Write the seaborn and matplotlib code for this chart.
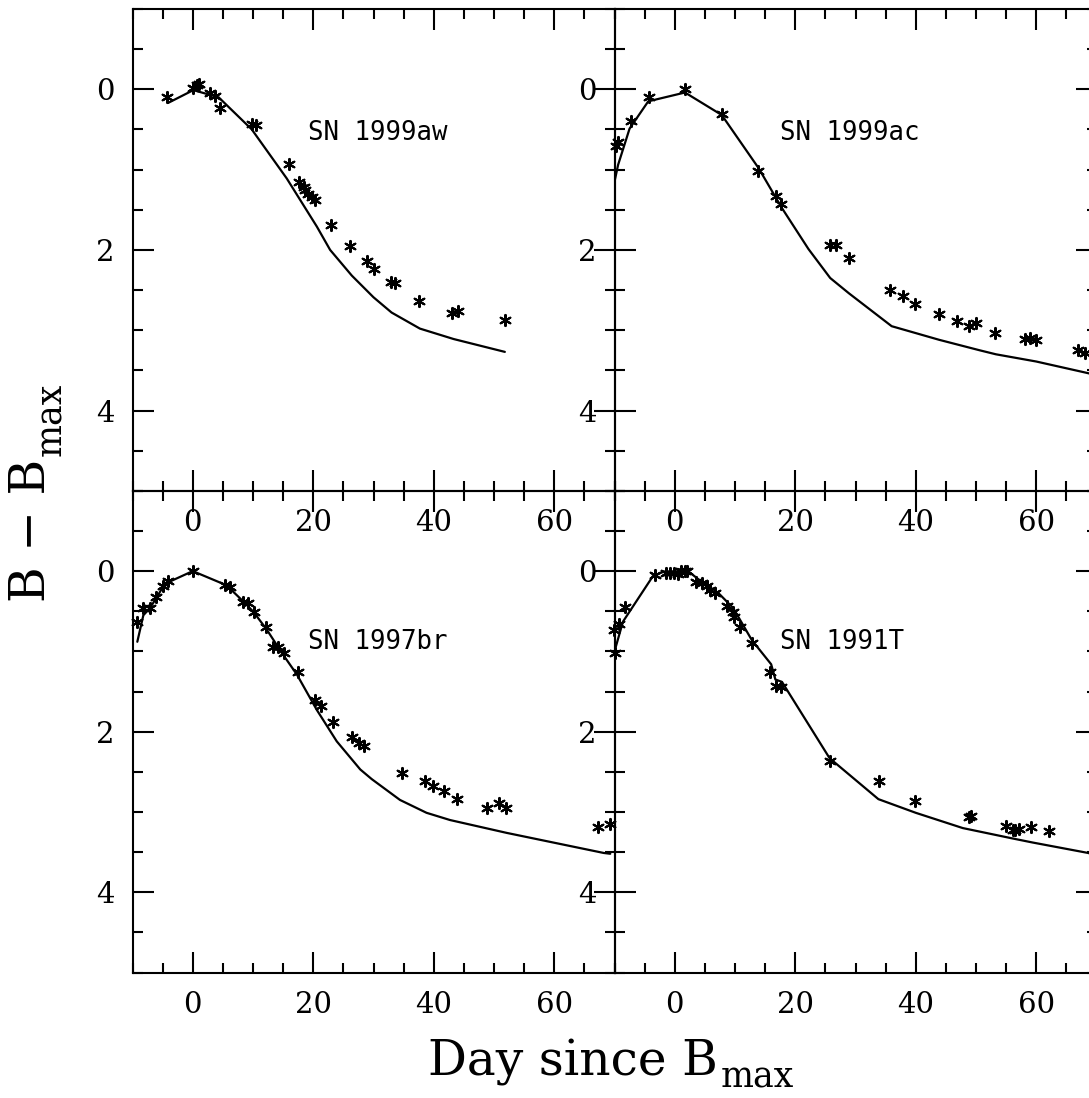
import numpy as np
import pandas as pd
import matplotlib
matplotlib.use("Agg")
import matplotlib.pyplot as plt
from matplotlib.ticker import MultipleLocator
import seaborn as sns

# ---------------- data ----------------
names = ["SN 1999aw", "SN 1999ac", "SN 1997br", "SN 1991T"]

aw_obs_day = [-4.3, 0.0, 0.66, 1.1, 2.9, 3.7, 4.5, 9.8, 10.5, 16.0, 17.7, 18.4, 18.6, 19.2,
              19.8, 20.3, 23.0, 26.1, 29.0, 30.1, 32.9, 33.5, 37.6, 43.0, 44.0, 51.8]
aw_obs_mag = [0.09, -0.02, -0.05, -0.07, 0.05, 0.08, 0.23, 0.43, 0.44, 0.93, 1.16, 1.22, 1.26, 1.31,
              1.34, 1.38, 1.69, 1.95, 2.14, 2.24, 2.40, 2.41, 2.64, 2.78, 2.76, 2.87]
aw_mod_day = [-4.1, 0.1, 4.3, 9.8, 15.6, 20.6, 22.8, 26.4, 30.0, 33.0, 37.7, 43.3, 51.8]
aw_mod_mag = [0.17, 0.01, 0.10, 0.50, 1.11, 1.71, 2.00, 2.32, 2.59, 2.78, 2.98, 3.11, 3.27]

ac_obs_day = [-9.8, -9.4, -7.2, -4.2, 1.7, 7.8, 13.9, 16.8, 17.7, 25.8, 26.8, 28.9, 35.8, 37.9,
              39.9, 43.9, 46.9, 48.9, 50.0, 53.1, 58.1, 59.0, 60.0, 66.9, 68.1]
ac_obs_mag = [0.71, 0.66, 0.39, 0.10, 0.0, 0.31, 1.02, 1.33, 1.43, 1.94, 1.94, 2.10, 2.50, 2.58,
              2.67, 2.80, 2.89, 2.95, 2.91, 3.04, 3.11, 3.10, 3.12, 3.25, 3.28]
ac_mod_day = [-10.0, -9.4, -7.5, -4.4, 1.7, 7.8, 13.9, 17.8, 22.2, 25.8, 28.9, 36.0, 43.9, 50.6,
              53.3, 60.0, 68.3, 70.0]
ac_mod_mag = [1.15, 0.94, 0.49, 0.15, 0.04, 0.32, 0.98, 1.48, 1.99, 2.35, 2.54, 2.95, 3.12, 3.25,
              3.30, 3.39, 3.53, 3.56]

br_obs_day = [-9.2, -8.2, -7.1, -6.1, -5.0, -4.1, 0.0, 5.3, 6.1, 8.4, 9.2, 10.2, 12.2, 13.4, 14.2,
              15.2, 17.4, 20.3, 21.3, 23.3, 26.4, 27.6, 28.5, 34.7, 38.6, 39.8, 41.7, 43.8, 48.9,
              50.8, 52.0, 67.2, 69.3]
br_obs_mag = [0.63, 0.46, 0.46, 0.32, 0.19, 0.12, 0.0, 0.17, 0.20, 0.39, 0.40, 0.51, 0.70, 0.95, 0.95,
              1.02, 1.26, 1.61, 1.68, 1.88, 2.06, 2.14, 2.18, 2.51, 2.61, 2.68, 2.74, 2.84, 2.95,
              2.89, 2.95, 3.19, 3.15]
br_mod_day = [-9.2, -8.2, -7.1, -6.0, -4.9, -3.8, 0.0, 5.4, 6.2, 8.7, 10.1, 12.3, 14.8, 17.3, 20.6,
              23.9, 27.8, 29.7, 34.4, 38.8, 42.7, 52.1, 68.2, 69.3]
br_mod_mag = [0.88, 0.55, 0.46, 0.33, 0.19, 0.13, 0.0, 0.17, 0.22, 0.40, 0.51, 0.73, 1.02, 1.29, 1.73,
              2.12, 2.47, 2.59, 2.85, 3.01, 3.10, 3.26, 3.51, 3.52]

t_obs_day = [-10.0, -10.1, -9.3, -8.2, -3.3, -1.5, -0.8, -0.1, 0.6, 1.1, 1.7, 2.1, 3.6, 4.6, 5.3,
             5.8, 6.7, 8.6, 9.6, 9.9, 10.8, 12.8, 15.8, 16.8, 17.7, 25.7, 33.9, 39.9, 48.9, 49.1,
             54.9, 56.1, 56.5, 57.1, 59.1, 62.1]
t_obs_mag = [1.02, 0.73, 0.66, 0.45, 0.05, 0.02, 0.02, 0.02, 0.03, 0.0, 0.0, 0.0, 0.13, 0.15, 0.19,
             0.23, 0.27, 0.44, 0.51, 0.57, 0.70, 0.90, 1.26, 1.43, 1.44, 2.37, 2.61, 2.86, 3.06, 3.05,
             3.17, 3.22, 3.23, 3.21, 3.19, 3.24]
t_mod_day = [-10.0, -8.6, -3.6, -1.9, 2.2, 3.9, 7.2, 9.7, 12.8, 16.0, 16.7, 17.8, 25.7, 33.8, 40.0,
             47.8, 56.1, 59.4, 68.6, 70.0]
t_mod_mag = [1.0, 0.63, 0.06, 0.01, 0.0, 0.10, 0.27, 0.46, 0.86, 1.16, 1.35, 1.38, 2.33, 2.84, 3.01,
             3.20, 3.33, 3.38, 3.51, 3.54]

obs_days = [aw_obs_day, ac_obs_day, br_obs_day, t_obs_day]
obs_mags = [aw_obs_mag, ac_obs_mag, br_obs_mag, t_obs_mag]
mod_days = [aw_mod_day, ac_mod_day, br_mod_day, t_mod_day]
mod_mags = [aw_mod_mag, ac_mod_mag, br_mod_mag, t_mod_mag]
label_pos = [(19.1, 0.54), (17.5, 0.55), (19.1, 0.88), (17.5, 0.88)]

# ---------------- style ----------------
sns.set_style("ticks")
plt.rcParams["font.family"] = ["DejaVu Serif"]
plt.rcParams["mathtext.fontset"] = "dejavuserif"
for k in ["text.color", "axes.labelcolor", "xtick.color", "ytick.color", "axes.edgecolor"]:
    plt.rcParams[k] = "black"

W, H = 1089, 1098
fig = plt.figure(figsize=(W / 100, H / 100), dpi=100)
fig.patch.set_facecolor("white")

panel_w, panel_h = 482.0, 481.8
geom = {0: (132.5, 9.0), 1: (614.5, 9.0), 2: (132.5, 490.8), 3: (614.5, 490.8)}
order = [2, 3, 0, 1]

for i in order:
    lx, ty = geom[i]
    ax = fig.add_axes([lx / W, 1 - (ty + panel_h) / H, panel_w / W, panel_h / H])
    ax.set_facecolor("none")
    mod = pd.DataFrame({"day": mod_days[i], "mag": mod_mags[i]})
    obs = pd.DataFrame({"day": obs_days[i], "mag": obs_mags[i]})
    sns.lineplot(data=mod, x="day", y="mag", ax=ax, color="black", lw=1.6,
                 sort=False, estimator=None)
    sns.scatterplot(data=obs, x="day", y="mag", ax=ax, marker=(6, 2, 0), s=64,
                    color="black", linewidth=1.5, clip_on=False, zorder=3)
    ax.set_xlim(-10, 70)
    ax.set_ylim(5, -1)
    ax.xaxis.set_major_locator(MultipleLocator(20))
    ax.xaxis.set_minor_locator(MultipleLocator(5))
    ax.yaxis.set_major_locator(MultipleLocator(2))
    ax.yaxis.set_minor_locator(MultipleLocator(0.5))
    ax.tick_params(which="both", direction="in", top=True, right=True,
                   width=1.5, color="black", labelcolor="black", labelsize=21, pad=13)
    ax.tick_params(which="major", length=15)
    ax.tick_params(which="minor", length=7.5)
    for sp in ax.spines.values():
        sp.set_linewidth(1.5)
        sp.set_color("black")
    ax.set_xlabel("")
    ax.set_ylabel("")
    tx, tyd = label_pos[i]
    ax.text(tx, tyd, names[i], family="DejaVu Sans Mono", fontsize=18.5,
            ha="left", va="center", color="black")

# ---- axis titles with large, low subscripts (built from two texts) ----
renderer = fig.canvas.get_renderer()
main_fs, sub_fs = 35, 25

xt = fig.text(428 / W, 1 - 1076 / H, "Day since B", fontsize=main_fs,
              ha="left", va="baseline")
bb = xt.get_window_extent(renderer)
fig.text((bb.x1 + 3) / W, 1 - 1088 / H, "max", fontsize=sub_fs,
         ha="left", va="baseline")

yt = fig.text(45 / W, 1 - 602 / H, "B \u2212 B", fontsize=main_fs,
              ha="left", va="baseline", rotation=90, rotation_mode="anchor")
bb = yt.get_window_extent(renderer)
fig.text(61 / W, (bb.y1 + 3) / H, "max", fontsize=sub_fs,
         ha="left", va="baseline", rotation=90, rotation_mode="anchor")

fig.savefig("out.png", dpi=100)
